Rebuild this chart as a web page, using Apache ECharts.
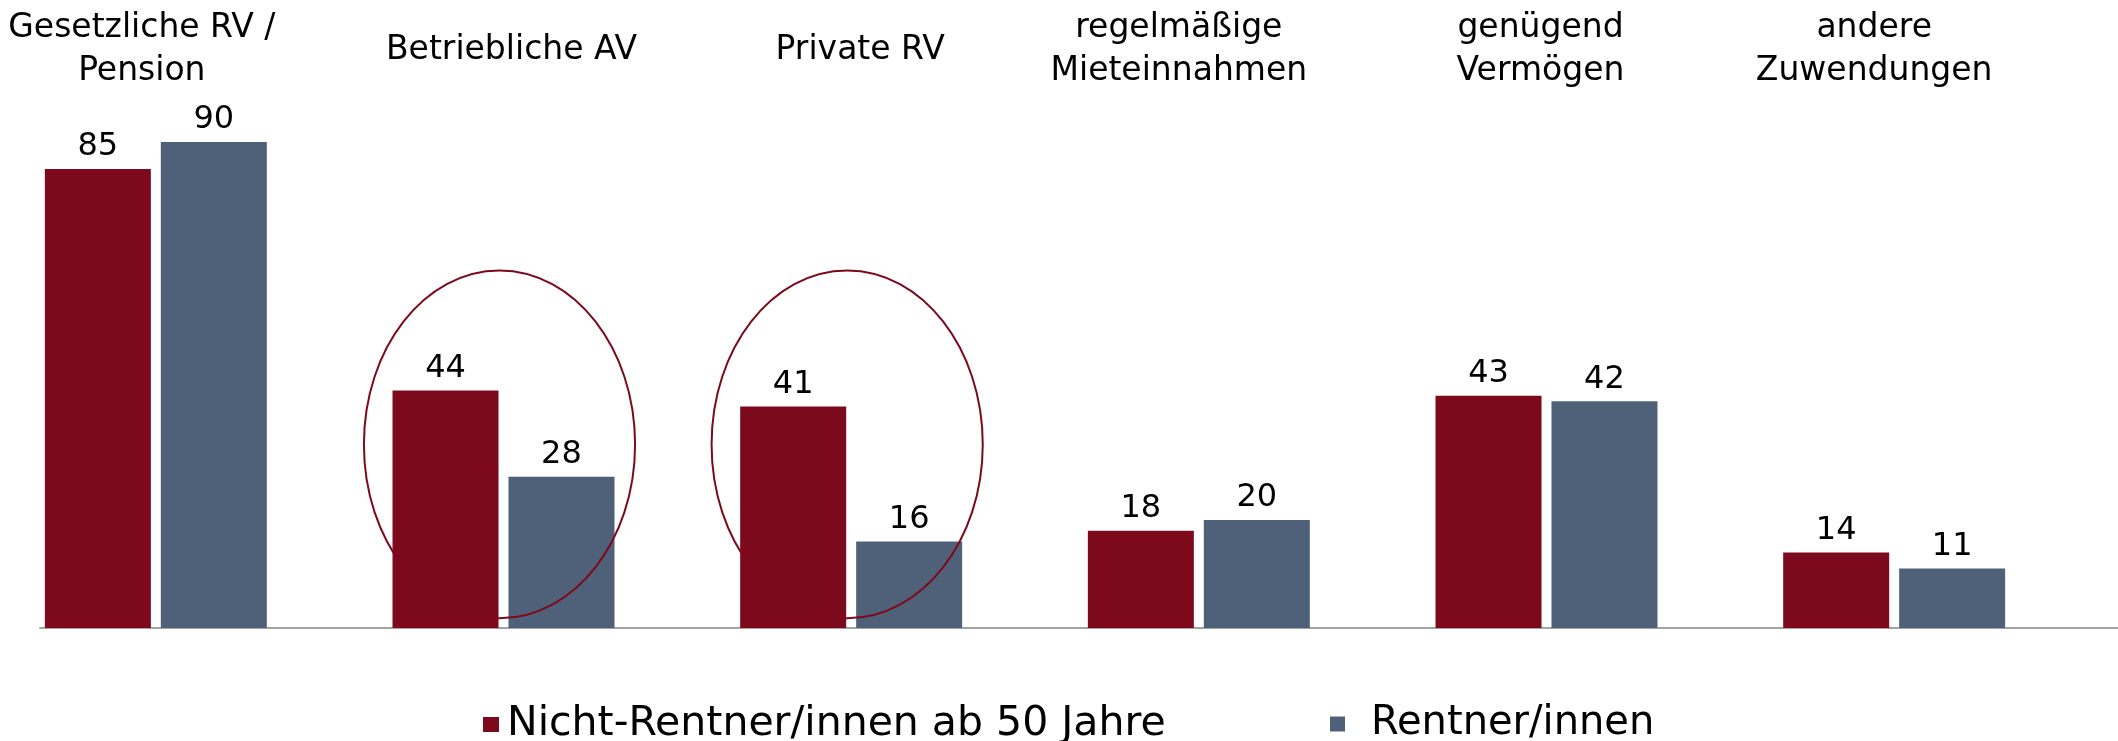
<!DOCTYPE html>
<html>
<head>
<meta charset="utf-8">
<title>Alterseinkommen</title>
<script src="https://cdn.jsdelivr.net/npm/echarts@6/dist/echarts.min.js"></script>
<style>
  html, body { margin: 0; padding: 0; background: #fff; }
  #main { width: 2118px; height: 741px; }
</style>
</head>
<body>
<div id="main"></div>
<script>
var categories = ['Gesetzliche RV /\nPension', 'Betriebliche AV', 'Private RV',
  'regelmäßige\nMieteinnahmen', 'genügend\nVermögen', 'andere\nZuwendungen'];
var seriesNames = ['Nicht-Rentner/innen ab 50 Jahre', 'Rentner/innen'];
var nichtRentner = [85, 44, 41, 18, 43, 14];
var rentner = [90, 28, 16, 20, 42, 11];
// highlighted categories: [category index, centre value]
var circled = [[1, 34], [2, 34]];

var RED = '#7c0a1c';
var BLUE = '#4e6179';
var FONT = 'DejaVu Sans';
// the heading boxes are not exactly centred over their bars
var labelShift = [-14, 8, 9, -20, -6, -20];

var chart = echarts.init(document.getElementById('main'));

function barLabel() {
  return {show: true, position: 'top', distance: 6, color: '#000', fontFamily: FONT, fontSize: 32};
}

var categoryData = categories.map(function (name, i) {
  var s = labelShift[i];
  var bottom = name.indexOf('\n') < 0 ? 25 : 0;
  return {
    value: name,
    textStyle: {
      verticalAlign: 'middle',
      padding: [0, s < 0 ? -2 * s : 0, bottom, s > 0 ? 2 * s : 0]
    }
  };
});

chart.setOption({
  backgroundColor: '#fff',
  animation: false,
  grid: [
    {left: -18, width: 2086, top: 88, bottom: 113, outerBoundsMode: 'none'},
    {left: 40, right: 0, top: 88, bottom: 113, outerBoundsMode: 'none'}
  ],
  xAxis: [{
    type: 'category',
    gridIndex: 0,
    position: 'top',
    data: categoryData,
    axisLine: {show: false},
    axisTick: {show: false},
    axisLabel: {
      interval: 0, margin: 38, verticalAlign: 'middle',
      color: '#000', fontFamily: FONT, fontSize: 33, lineHeight: 43
    }
  }, {
    // baseline only
    type: 'value',
    gridIndex: 1,
    min: 0, max: 1,
    axisLine: {show: true, lineStyle: {color: '#a3a3a3', width: 2}},
    axisTick: {show: false},
    axisLabel: {show: false},
    splitLine: {show: false}
  }],
  yAxis: [
    {type: 'value', gridIndex: 0, min: 0, max: 100, show: false},
    {type: 'value', gridIndex: 1, min: 0, max: 1, show: false}
  ],
  legend: [{
    data: [seriesNames[0]],
    left: 483, top: 704, padding: 0,
    icon: 'rect', itemWidth: 16, itemHeight: 15,
    textStyle: {color: '#000', fontFamily: FONT, fontSize: 41, padding: [0, 0, 0, 3]}
  }, {
    data: [seriesNames[1]],
    left: 1330, top: 704, padding: 0,
    icon: 'rect', itemWidth: 15, itemHeight: 15,
    textStyle: {color: '#000', fontFamily: FONT, fontSize: 40, padding: [0, 0, 0, 21]}
  }],
  series: [{
    name: seriesNames[0],
    type: 'bar',
    z: 4,
    barWidth: 106,
    barGap: '9.4%',
    itemStyle: {color: RED},
    label: barLabel(),
    data: nichtRentner
  }, {
    name: seriesNames[1],
    type: 'bar',
    z: 2,
    barWidth: 106,
    barGap: '9.4%',
    itemStyle: {color: BLUE},
    label: barLabel(),
    data: rentner
  }, {
    type: 'custom',
    z: 3,
    silent: true,
    data: circled,
    renderItem: function (params, api) {
      var c = api.coord([api.value(0), api.value(1)]);
      return {
        type: 'ellipse',
        shape: {cx: c[0] - 4, cy: c[1], rx: api.size([1, 0])[0] * 0.39, ry: api.size([0, 32.2])[1]},
        style: {fill: 'none', stroke: RED, lineWidth: 2}
      };
    }
  }]
});
</script>
</body>
</html>
